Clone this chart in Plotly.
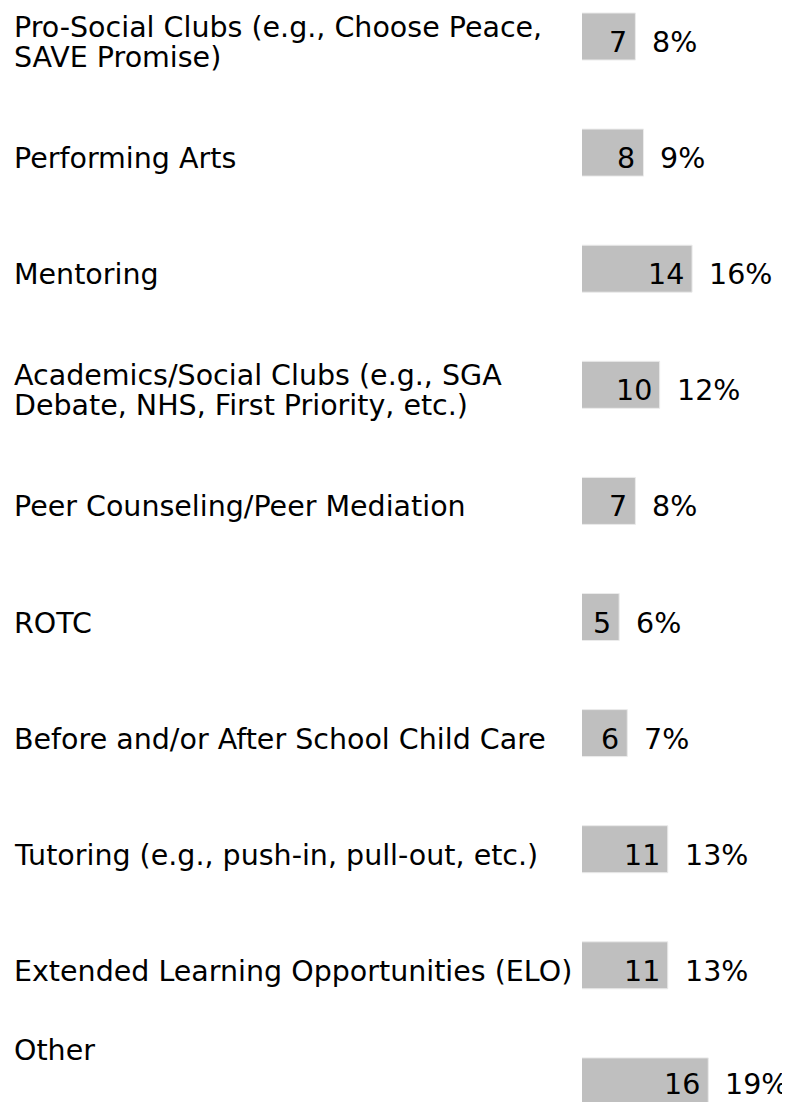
import plotly.graph_objects as go

categories = [
    "Pro-Social Clubs (e.g., Choose Peace,<br>SAVE Promise)",
    "Performing Arts",
    "Mentoring",
    "Academics/Social Clubs (e.g., SGA<br>Debate, NHS, First Priority, etc.)",
    "Peer Counseling/Peer Mediation",
    "ROTC",
    "Before and/or After School Child Care",
    "Tutoring (e.g., push-in, pull-out, etc.)",
    "Extended Learning Opportunities (ELO)",
    "Other",
]
counts = [7, 8, 14, 10, 7, 5, 6, 11, 11, 16]
percents = ["8%", "9%", "16%", "12%", "8%", "6%", "7%", "13%", "13%", "19%"]

FONT = "DejaVu Sans, Verdana, sans-serif"
FS = 28.5
idx = list(range(len(categories)))

# figure geometry (page body has an 8px margin, so figure is 782x1094)
W, H = 782, 1094
PLOT_L = 574
PX_PER_UNIT = 8.1
X_START = 0.41
ROW_PX = 116.1
FIRST_ROW_PX = 28.5

fig = go.Figure()
fig.add_trace(go.Bar(
    x=counts,
    y=idx,
    orientation="h",
    width=0.405,
    marker=dict(color="#BFBFBF", line=dict(color="#EBEBEB", width=1)),
    hoverinfo="skip",
))

annotations = []
label_x = (4 - PLOT_L) / (W - PLOT_L)
last = len(categories) - 1
for i, (c, p, lab) in enumerate(zip(counts, percents, categories)):
    ys = -3 if i == last else -6
    annotations.append(dict(
        x=c, y=i, xref="x", yref="y", text=str(c), showarrow=False,
        xanchor="right", yanchor="middle", xshift=-6, yshift=ys,
        font=dict(family=FONT, size=FS, color="black"),
    ))
    annotations.append(dict(
        x=c, y=i, xref="x", yref="y", text=p, showarrow=False,
        xanchor="left", yanchor="middle", xshift=15, yshift=ys,
        font=dict(family=FONT, size=FS, color="black"),
    ))
    lines = lab.split("<br>")
    n = len(lines)
    label_shift = 31 if i == last else -6
    for j, line in enumerate(lines):
        offset = (j - (n - 1) / 2) * 30
        annotations.append(dict(
            x=label_x, y=i, xref="paper", yref="y", text=line, showarrow=False,
            xanchor="left", yanchor="middle", align="left", yshift=label_shift - offset,
            font=dict(family=FONT, size=FS, color="black"),
        ))

y_top = -FIRST_ROW_PX / ROW_PX
y_bot = (H - FIRST_ROW_PX) / ROW_PX

fig.update_layout(
    width=W, height=H,
    margin=dict(l=PLOT_L, r=0, t=0, b=0, pad=0),
    paper_bgcolor="white", plot_bgcolor="white",
    showlegend=False,
    annotations=annotations,
    xaxis=dict(range=[X_START, X_START + (W - PLOT_L) / PX_PER_UNIT], visible=False, fixedrange=True),
    yaxis=dict(range=[y_bot, y_top], visible=False, fixedrange=True),
    font=dict(family=FONT, size=FS, color="black"),
)

fig.write_html("out.html")
